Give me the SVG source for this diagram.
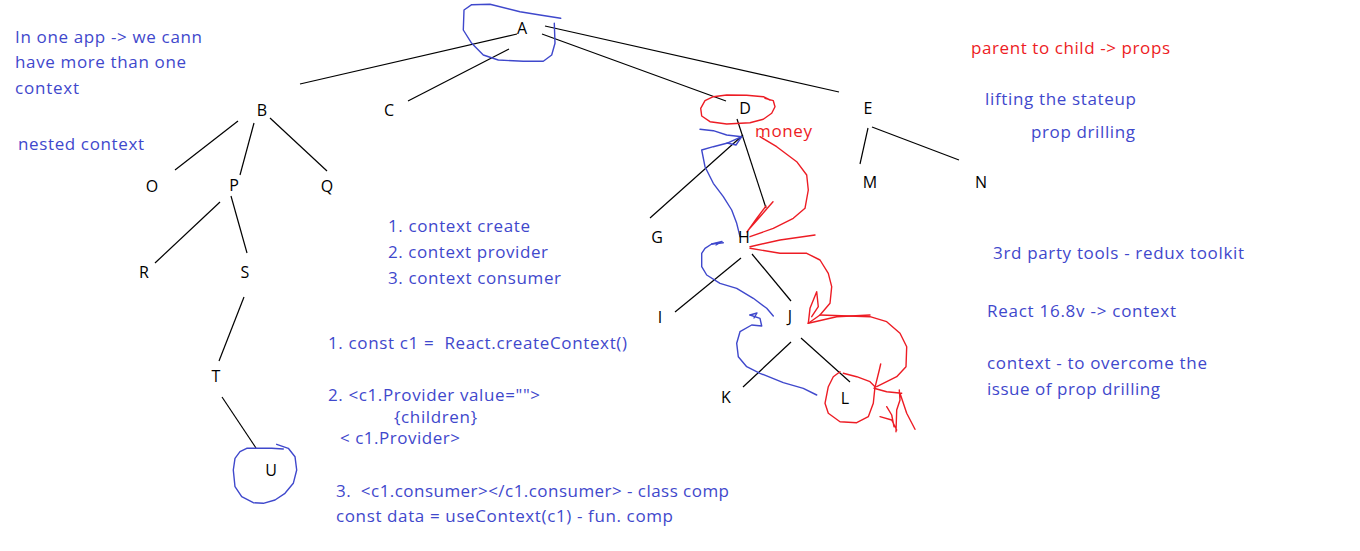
<svg xmlns="http://www.w3.org/2000/svg" width="1360" height="551" viewBox="0 0 1360 551">
<style>
.n{font-family:"Open Sans",Lato,sans-serif;font-size:16px;fill:#000;text-anchor:middle}
.t{font-family:"Open Sans",Lato,sans-serif;font-size:17px;fill:#3f48cc}
.r{font-family:"Open Sans",Lato,sans-serif;font-size:17px;fill:#ed1c24}
.e{stroke:#000;stroke-width:1.2;fill:none}
.b{stroke:#3f48cc;stroke-width:1.4;fill:none;stroke-linejoin:round;stroke-linecap:round}
.rd{stroke:#ed1c24;stroke-width:1.4;fill:none;stroke-linejoin:round;stroke-linecap:round}
</style>
<rect width="1360" height="551" fill="#fff"/>
<g id="connectors">
<line class="e" x1="300" y1="84" x2="517" y2="34"/>
<line class="e" x1="408" y1="101" x2="509" y2="49"/>
<line class="e" x1="542" y1="34" x2="726" y2="101"/>
<line class="e" x1="545" y1="26" x2="839" y2="92"/>
<line class="e" x1="238" y1="121" x2="175" y2="170"/>
<line class="e" x1="254" y1="123" x2="240" y2="175"/>
<line class="e" x1="270" y1="118" x2="327" y2="171"/>
<line class="e" x1="220" y1="202" x2="155" y2="263"/>
<line class="e" x1="231" y1="196" x2="247" y2="253"/>
<line class="e" x1="244" y1="297" x2="219" y2="361"/>
<line class="e" x1="222" y1="397" x2="256" y2="448"/>
<line class="e" x1="743" y1="135" x2="650" y2="218"/>
<line class="e" x1="737" y1="119" x2="766" y2="208"/>
<line class="e" x1="868" y1="128" x2="860" y2="164"/>
<line class="e" x1="872" y1="127" x2="959" y2="160"/>
<line class="e" x1="741" y1="258" x2="675" y2="312"/>
<line class="e" x1="752" y1="254" x2="791" y2="301"/>
<line class="e" x1="791" y1="342" x2="743" y2="387"/>
<line class="e" x1="801" y1="338" x2="850" y2="382"/>
</g>
<g id="scribbles">
<path class="b" d="M560.7,18.3 L540,15 L520,11.7 L490,4.3 L471.7,4.7 L464,10 L463.3,30 L471.7,43.3 L483.3,55 L498.3,60 L523.3,61.3 L543.3,61.3 L551.7,55 L555,43.3 L554.3,23.3"/>
<path class="b" d="M276.7,444.3 L288.3,448.3 L295,456.7 L296.7,470 L293.3,483.3 L285,493.3 L275,500 L263.3,503.3 L253.3,502.7 L241.7,496.7 L235,486.7 L233.3,470 L235,458.3 L240,451.7 L246.7,448.3 L271.7,448.3 L283.3,449"/>
<path class="b" d="M700,129.3 L713.3,130.7 L726.7,135 L741.7,136.7 L726.7,143.3 L713.3,146.7 L701.7,150 L705,166.7 L713.3,183.3 L723.3,196.7 L731.7,210 L736.7,223.3 L740,236.7"/>
<path class="b" d="M741.7,136.7 L736,145 L727,143"/>
<path class="b" d="M723.3,242.7 L711.7,244 L705,248.3 L701.7,253.3 L701.7,266.7 L706.7,275 L720,283.3 L736.7,288.3 L753.3,298.3 L766.7,308.3 L773.3,316"/>
<path class="b" d="M711.7,244 L722,241.5 L716,245"/>
<path class="b" d="M750,315 L760,318.3 L761.7,326 L751.7,325 L740,331.7 L736.7,343.3 L738.3,356.7 L746.7,366.7 L760,373.3 L783.3,382.7 L803.3,388.3 L816.7,395"/>
<path class="b" d="M750,315 L757,313 L754,318"/>
<path class="rd" d="M765,98.3 L773.3,100.7 L775,106.7 L771.7,113.3 L763.3,119.3 L750,122.7 L726.7,124 L710,121.7 L701.7,116 L700.7,108.3 L705,100.7 L713.3,96.7 L726.7,95 L746.7,95.3 L763.3,96.7 L770,100"/>
<path class="rd" d="M760,136.7 L776.7,146.7 L796.7,161.7 L806.7,175 L808.3,190 L805,208.3 L793.3,218.3 L773.3,228.3 L750,236.7"/>
<path class="rd" d="M773,201.7 L760,216.7 L748.3,230 M766,206 L757,218 L747,232"/>
<path class="rd" d="M750,246.7 L780,240 L815,235"/>
<path class="rd" d="M750,248.3 L780,253.3 L806.7,253.3 L820,260 L828.3,273.3 L831.7,286.7 L830,303.3 L820,315 L808.3,323.3"/>
<path class="rd" d="M808.3,323.3 L810,308.3 L816.7,291.7 L818.3,306.7 L811.7,316.7"/>
<path class="rd" d="M808.3,323.3 L836.7,316.7 L870,315"/>
<path class="rd" d="M820,315 L870,316.7 L886.7,321.7 L900,333.3 L906.7,346.7 L906,366.7 L896.7,376.7 L876.7,386.7"/>
<path class="rd" d="M840,371.7 L833.3,376.7 L828.3,386.7 L825,403.3 L828.3,413.3 L840,421.7 L856.7,422.7 L868.3,416.7 L873.3,403.3 L875,386.7 L870,381.7 L856.7,376.7 L843.3,373.3"/>
<path class="rd" d="M875,387.3 L879.3,370 L880.7,364 M874,388.3 L886.7,391.7 L901.7,393.3 M899.3,390 L900,400 L896.7,410 L896,431.7 M900,393.3 L906.7,413.3 L915,429.3 M886.7,406.7 L891.7,415 L894,426.7 M880,416.7 L891.7,420 L896.7,430"/>
</g>
<g id="node-A"><text class="n" x="522" y="34">A</text></g>
<g id="node-B"><text class="n" x="262" y="116">B</text></g>
<g id="node-C"><text class="n" x="389" y="116">C</text></g>
<g id="node-D"><text class="n" x="745" y="114">D</text></g>
<g id="node-E"><text class="n" x="868" y="114">E</text></g>
<g id="node-O"><text class="n" x="152" y="192">O</text></g>
<g id="node-P"><text class="n" x="234" y="191">P</text></g>
<g id="node-Q"><text class="n" x="327" y="192">Q</text></g>
<g id="node-M"><text class="n" x="870" y="188">M</text></g>
<g id="node-N"><text class="n" x="981" y="188">N</text></g>
<g id="node-G"><text class="n" x="657" y="243">G</text></g>
<g id="node-H"><text class="n" x="744" y="243">H</text></g>
<g id="node-R"><text class="n" x="144" y="278">R</text></g>
<g id="node-S"><text class="n" x="245" y="278">S</text></g>
<g id="node-I"><text class="n" x="660" y="323">I</text></g>
<g id="node-J"><text class="n" x="790" y="322">J</text></g>
<g id="node-K"><text class="n" x="726" y="403">K</text></g>
<g id="node-L"><text class="n" x="845" y="404">L</text></g>
<g id="node-T"><text class="n" x="216" y="382">T</text></g>
<g id="node-U"><text class="n" x="271" y="476">U</text></g>
<g id="notes">
<text class="t" x="15" y="43" textLength="187">In one app -&gt; we cann</text>
<text class="t" x="15" y="68" textLength="171">have more than one</text>
<text class="t" x="15" y="94" textLength="64">context</text>
<text class="t" x="18" y="150" textLength="126">nested context</text>
<text class="r" x="971" y="54" textLength="199">parent to child -&gt; props</text>
<text class="r" x="755" y="137" textLength="57">money</text>
<text class="t" x="985" y="105" textLength="151">lifting the stateup</text>
<text class="t" x="1031" y="138" textLength="104">prop drilling</text>
<text class="t" x="993" y="259" textLength="251">3rd party tools - redux toolkit</text>
<text class="t" x="987" y="317" textLength="189">React 16.8v -&gt; context</text>
<text class="t" x="987" y="369" textLength="220">context - to overcome the</text>
<text class="t" x="987" y="395" textLength="173">issue of prop drilling</text>
<text class="t" x="388" y="232" textLength="142">1. context create</text>
<text class="t" x="388" y="258" textLength="160">2. context provider</text>
<text class="t" x="388" y="284" textLength="173">3. context consumer</text>
<text class="t" x="328" y="349" textLength="299" xml:space="preserve">1. const c1 =  React.createContext()</text>
<text class="t" x="328" y="401" textLength="212">2. &lt;c1.Provider value=""&gt;</text>
<text class="t" x="394" y="423" textLength="83">{children}</text>
<text class="t" x="340" y="444" textLength="120">&lt; c1.Provider&gt;</text>
<text class="t" x="336" y="497" textLength="393" xml:space="preserve">3.  &lt;c1.consumer&gt;&lt;/c1.consumer&gt; - class comp</text>
<text class="t" x="336" y="522" textLength="337">const data = useContext(c1) - fun. comp</text>
</g>
</svg>
